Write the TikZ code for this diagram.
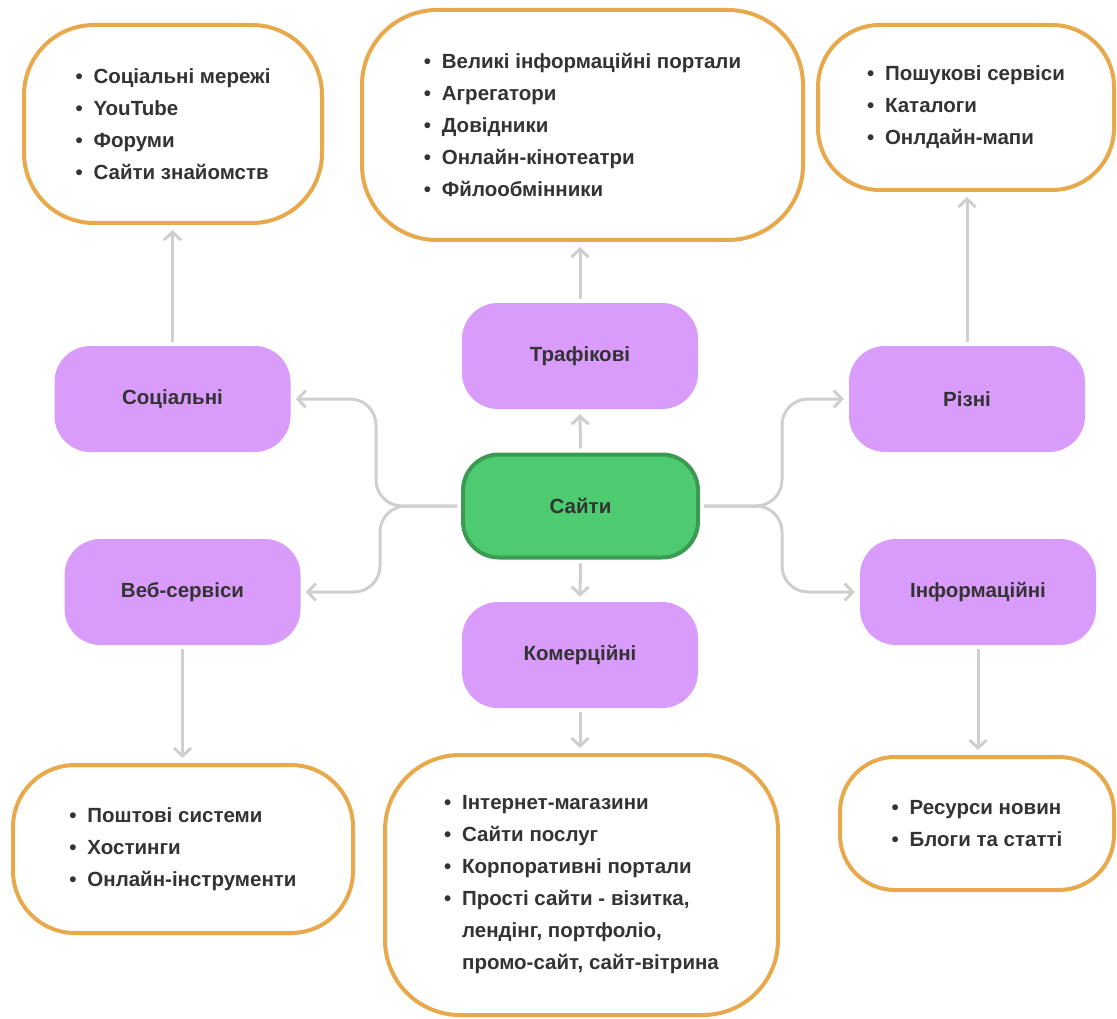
\documentclass[tikz,border=0pt]{standalone}
\usepackage{fontspec}
\setmainfont{Liberation Sans}
\usetikzlibrary{arrows.meta}

\definecolor{boxorange}{HTML}{E8A94C}
\definecolor{catpurple}{HTML}{D99CFB}
\definecolor{rootgreen}{HTML}{4ECA70}
\definecolor{rootedge}{HTML}{3C9B52}
\definecolor{linkgray}{HTML}{CFCFCF}
\definecolor{txtgray}{HTML}{333333}

\newcommand\itemline[1]{\makebox[18pt][l]{•}#1}
\newcommand\contline[1]{\hspace*{18pt}#1}

\tikzset{
  root/.style={draw=rootedge, line width=4pt, fill=rootgreen, rounded corners=36pt,
    minimum width=235pt, minimum height=103pt},
  cat/.style={fill=catpurple, rounded corners=36pt, minimum width=236pt, minimum height=106pt},
  list/.style={draw=boxorange, line width=4pt, fill=white, rounded corners=62pt, align=left},
  link/.style={draw=linkgray, line width=3pt, -{Straight Barb[length=8pt,width=17pt]},
    shorten <=4pt, shorten >=5pt},
  fork/.style={link, rounded corners=26pt}
}

\begin{document}
\begin{tikzpicture}[x=1pt, y=-1pt, inner sep=0pt, text=txtgray,
    font=\bfseries\fontsize{20.5}{32}\selectfont]
  \useasboundingbox (0,0) rectangle (1117,1019);

  \node[root] (site) at (580.5,506) {Сайти};
  \node[cat] (traf) at (580,356) {Трафікові};
  \node[cat] (com) at (580,655) {Комерційні};
  \node[cat] (soc) at (172.5,399) {Соціальні};
  \node[cat] (misc) at (967,399) {Різні};
  \node[cat] (web) at (182.5,592) {Веб-сервіси};
  \node[cat] (info) at (978,592) {Інформаційні};

  \node[list, minimum width=298pt, minimum height=198pt, rounded corners=70pt] (socL) at (173,124)
    {\itemline{Соціальні мережі}\\ \itemline{YouTube}\\ \itemline{Форуми}\\ \itemline{Сайти знайомств}};
  \node[list, minimum width=441pt, minimum height=230pt, rounded corners=75pt] (trafL) at (582.5,125)
    {\itemline{Великі інформаційні портали}\\ \itemline{Агрегатори}\\ \itemline{Довідники}\\
     \itemline{Онлайн-кінотеатри}\\ \itemline{Фйлообмінники}};
  \node[list, minimum width=296pt, minimum height=165pt] (miscL) at (966,107.5)
    {\itemline{Пошукові сервіси}\\ \itemline{Каталоги}\\ \itemline{Онлдайн-мапи}};
  \node[list, minimum width=340pt, minimum height=168pt] (webL) at (183,849)
    {\itemline{Поштові системи}\\ \itemline{Хостинги}\\ \itemline{Онлайн-інструменти}};
  \node[list, minimum width=393pt, minimum height=260pt, rounded corners=75pt] (comL) at (581.5,885)
    {\itemline{Інтернет-магазини}\\ \itemline{Сайти послуг}\\ \itemline{Корпоративні портали}\\
     \itemline{Прості сайти - візитка,}\\ \contline{лендінг, портфоліо,}\\ \contline{промо-сайт, сайт-вітрина}};
  \node[list, minimum width=274pt, minimum height=133pt, rounded corners=55pt] (infoL) at (977,823.5)
    {\itemline{Ресурси новин}\\ \itemline{Блоги та статті}};

  \draw[link] (site.north) -- (traf.south);
  \draw[link] (site.south) -- (com.south |- com.north);
  \draw[fork] (site.west) -- ++(-85,0) |- (soc.east);
  \draw[fork] (site.west) -- ++(-81,0) |- (web.east);
  \draw[fork] (site.east) -- ++(82,0) |- (misc.west);
  \draw[fork] (site.east) -- ++(82,0) |- (info.west);

  \draw[link] (soc.north) -- (soc.north |- socL.south);
  \draw[link] (traf.north) -- (traf.north |- trafL.south);
  \draw[link] (misc.north) -- (misc.north |- miscL.south);
  \draw[link] (web.south) -- (web.south |- webL.north);
  \draw[link] (com.south) -- (com.south |- comL.north);
  \draw[link] (info.south) -- (info.south |- infoL.north);
\end{tikzpicture}
\end{document}
